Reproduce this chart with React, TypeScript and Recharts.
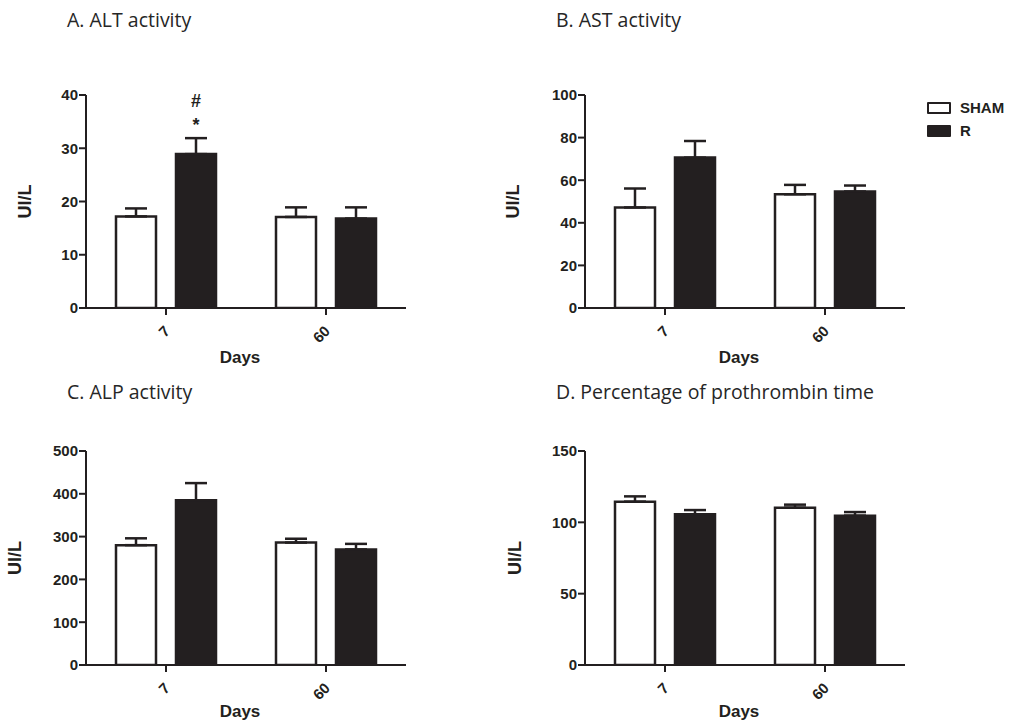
import React from 'react';
import { BarChart, Bar, XAxis, YAxis, ErrorBar, Legend, LabelList } from 'recharts';

// ---------- data ----------
const days = ['7', '60'];

const altSham = [17.2, 17.1];
const altShamErr = [1.5, 1.8];
const altR = [28.9, 16.8];
const altRErr = [3.0, 2.1];
const altMarks = [['#', '*'], []];

const astSham = [47.2, 53.4];
const astShamErr = [8.9, 4.4];
const astR = [70.6, 54.7];
const astRErr = [7.8, 2.8];

const alpSham = [280, 286];
const alpShamErr = [16, 9];
const alpR = [385, 270];
const alpRErr = [40, 13];

const ptSham = [114.5, 110.3];
const ptShamErr = [3.7, 2.1];
const ptR = [105.6, 104.7];
const ptRErr = [3.0, 2.5];

const altTicks = [0, 10, 20, 30, 40];
const astTicks = [0, 20, 40, 60, 80, 100];
const alpTicks = [0, 100, 200, 300, 400, 500];
const ptTicks = [0, 50, 100, 150];

const seriesNames = ['SHAM', 'R'];
const titles = ['A. ALT activity', 'B. AST activity', 'C. ALP activity', 'D. Percentage of prothrombin time'];
const yLabelText = 'UI/L';
const xLabelText = 'Days';

// ---------- helpers ----------
const INK = '#231f20';
const BOLD_FONT = '"Liberation Sans", Arial, sans-serif';

function buildRows(sham: number[], shamErr: number[], r: number[], rErr: number[], marks?: string[][]) {
  return days.map((d, i) => ({
    day: d,
    sham: sham[i],
    shamErr: [0, shamErr[i]],
    r: r[i],
    rErr: [0, rErr[i]],
    marks: marks ? marks[i] : [],
  }));
}

const DayTick = (props: any) => {
  const { x, y, payload } = props;
  return (
    <g transform={`translate(${x + 5},${y + 15}) rotate(-45)`}>
      <text x={0} y={0} textAnchor="end" fontFamily={BOLD_FONT} fontWeight="bold" fontSize={15} fill={INK}>
        {payload.value}
      </text>
    </g>
  );
};

const makeYLabel = (dxFromAxis: number) => (props: any) => {
  const vb = props.viewBox || {};
  const cx = vb.x + vb.width + dxFromAxis;
  const cy = vb.y + vb.height / 2;
  return (
    <text
      x={cx}
      y={cy}
      transform={`rotate(-90 ${cx} ${cy})`}
      textAnchor="middle"
      dominantBaseline="central"
      fontFamily={BOLD_FONT}
      fontWeight="bold"
      fontSize={18}
      fill={INK}
    >
      {yLabelText}
    </text>
  );
};

const makeXLabel = (dy: number) => (props: any) => {
  const vb = props.viewBox || {};
  const cx = vb.x + vb.width / 2 - 6;
  const cy = vb.y + dy;
  return (
    <text x={cx} y={cy} textAnchor="middle" fontFamily={BOLD_FONT} fontWeight="bold" fontSize={17} fill={INK}>
      {xLabelText}
    </text>
  );
};

const MarksLabel = (props: any) => {
  const { x, y, width, value } = props;
  if (!value || !value.length) return null;
  const cx = x + width / 2;
  return (
    <g>
      {value.map((m: string, k: number) => (
        <text
          key={k}
          x={cx}
          y={y - 47 + k * 24}
          textAnchor="middle"
          fontFamily={BOLD_FONT}
          fontWeight="bold"
          fontSize={18}
          fill={INK}
        >
          {m}
        </text>
      ))}
    </g>
  );
};

const LegendContent = (props: any) => {
  const payload = [...(props.payload || [])].sort(
    (a: any, b: any) => seriesNames.indexOf(a.value) - seriesNames.indexOf(b.value)
  );
  return (
    <div style={{ fontFamily: BOLD_FONT }}>
      {payload.map((p: any, i: number) => (
        <div key={i} style={{ display: 'flex', alignItems: 'center', height: 23 }}>
          <div
            style={{
              width: 20,
              height: 8,
              border: `2.5px solid ${INK}`,
              background: p.value === seriesNames[0] ? '#ffffff' : INK,
              borderRadius: 1,
            }}
          />
          <span style={{ marginLeft: 9, fontWeight: 'bold', fontSize: 15, color: INK }}>{p.value}</span>
        </div>
      ))}
    </div>
  );
};

type PanelProps = {
  left: number;
  top: number;
  width: number;
  height: number;
  marginTop: number;
  marginRight: number;
  xAxisHeight: number;
  xLabelDy: number;
  rows: any[];
  ticks: number[];
  yLabelDx: number;
  showMarks?: boolean;
  legend?: boolean;
};

function Panel(p: PanelProps) {
  const dom: [number, number] = [p.ticks[0], p.ticks[p.ticks.length - 1]];
  return (
    <div style={{ position: 'absolute', left: p.left, top: p.top }}>
      <BarChart
        width={p.width}
        height={p.height}
        data={p.rows}
        margin={{ top: p.marginTop, right: p.marginRight, left: 0, bottom: 0 }}
        barGap={20}
      >
        <XAxis
          dataKey="day"
          height={p.xAxisHeight}
          interval={0}
          tickSize={7}
          tickMargin={2}
          axisLine={{ stroke: INK, strokeWidth: 2 }}
          tickLine={{ stroke: INK, strokeWidth: 2 }}
          tick={<DayTick />}
          label={{ content: makeXLabel(p.xLabelDy) } as any}
        />
        <YAxis
          width={86}
          domain={dom}
          ticks={p.ticks}
          interval={0}
          allowDataOverflow
          tickSize={7}
          tickMargin={1}
          axisLine={{ stroke: INK, strokeWidth: 2 }}
          tickLine={{ stroke: INK, strokeWidth: 2 }}
          tick={{ fontFamily: BOLD_FONT, fontWeight: 'bold', fontSize: 15, fill: INK }}
          label={{ content: makeYLabel(p.yLabelDx) } as any}
        />
        {p.legend && (
          <Legend
            layout="vertical"
            align="center"
            verticalAlign="middle"
            wrapperStyle={{ position: 'absolute', left: 428, top: 96, width: 90 }}
            content={<LegendContent />}
          />
        )}
        <Bar
          dataKey="sham"
          name={seriesNames[0]}
          fill="#ffffff"
          stroke={INK}
          strokeWidth={2.5}
          barSize={40}
          isAnimationActive={false}
        >
          <ErrorBar dataKey="shamErr" width={11} strokeWidth={2.5} stroke={INK} direction="y" />
        </Bar>
        <Bar
          dataKey="r"
          name={seriesNames[1]}
          fill={INK}
          stroke={INK}
          strokeWidth={2.5}
          barSize={40}
          isAnimationActive={false}
        >
          <ErrorBar dataKey="rErr" width={11} strokeWidth={2.5} stroke={INK} direction="y" />
          {p.showMarks && <LabelList dataKey="marks" content={<MarksLabel />} />}
        </Bar>
      </BarChart>
    </div>
  );
}

const titleStyle = (left: number, top: number): React.CSSProperties => ({
  position: 'absolute',
  left,
  top,
  fontFamily: '"Open Sans", Lato, sans-serif',
  fontSize: 19.5,
  lineHeight: '19.5px',
  color: '#262626',
  whiteSpace: 'nowrap',
});

export default function App() {
  const altRows = buildRows(altSham, altShamErr, altR, altRErr, altMarks);
  const astRows = buildRows(astSham, astShamErr, astR, astRErr);
  const alpRows = buildRows(alpSham, alpShamErr, alpR, alpRErr);
  const ptRows = buildRows(ptSham, ptShamErr, ptR, ptRErr);

  return (
    <div
      style={{
        position: 'absolute',
        left: 0,
        top: 0,
        width: 1010,
        height: 722,
        overflow: 'hidden',
        background: '#ffffff',
      }}
    >
      <div style={titleStyle(67, 10)}>{titles[0]}</div>
      <div style={titleStyle(556, 10)}>{titles[1]}</div>
      <div style={titleStyle(67, 382)}>{titles[2]}</div>
      <div style={titleStyle(556, 382)}>{titles[3]}</div>

      <Panel left={0} top={0} width={430} height={380} marginTop={95} marginRight={24} xAxisHeight={72} xLabelDy={55}
        rows={altRows} ticks={altTicks} yLabelDx={-61} showMarks />
      <Panel left={499} top={0} width={511} height={380} marginTop={95} marginRight={105} xAxisHeight={72} xLabelDy={55}
        rows={astRows} ticks={astTicks} yLabelDx={-72} legend />
      <Panel left={0} top={380} width={430} height={342} marginTop={71} marginRight={24} xAxisHeight={57} xLabelDy={52}
        rows={alpRows} ticks={alpTicks} yLabelDx={-71} />
      <Panel left={499} top={380} width={430} height={342} marginTop={71} marginRight={24} xAxisHeight={57} xLabelDy={52}
        rows={ptRows} ticks={ptTicks} yLabelDx={-70} />
    </div>
  );
}
